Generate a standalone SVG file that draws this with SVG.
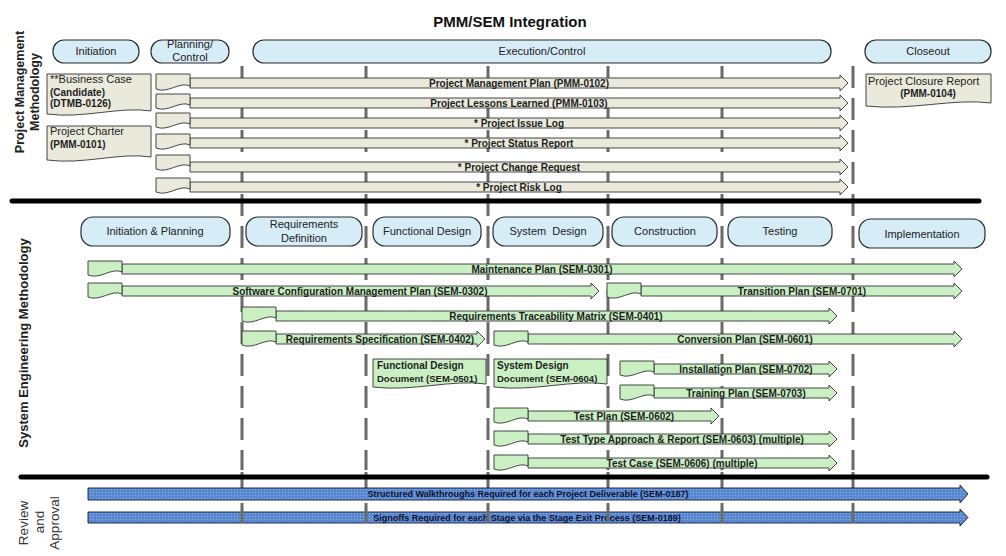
<svg xmlns="http://www.w3.org/2000/svg" width="1006" height="556" viewBox="0 0 1006 556">
<defs>
<style>
.pill{fill:#d6ecf7;stroke:#2b2b2b;stroke-width:1.2}
.pt{font-family:"Liberation Sans",Arial,sans-serif;font-size:11px;fill:#222;text-anchor:middle}
.beige{fill:#e9e9dc;stroke:#333;stroke-width:0.9}
.green{fill:#c9efc3;stroke:#333;stroke-width:0.9}
.blue{fill:url(#bluetex);stroke:#1a1a2a;stroke-width:0.9}
.bt{font-family:"Liberation Sans",Arial,sans-serif;font-size:10px;font-weight:bold;fill:#1e1e1e;text-anchor:middle}
.rt{font-family:"Liberation Sans",Arial,sans-serif;font-size:9px;font-weight:bold;fill:#101030;text-anchor:middle}
.dt{font-family:"Liberation Sans",Arial,sans-serif;font-size:11px;fill:#1e1e1e}
.db{font-family:"Liberation Sans",Arial,sans-serif;font-size:10px;font-weight:bold;fill:#1e1e1e}
.lab{font-family:"Liberation Sans",Arial,sans-serif;font-size:12.5px;font-weight:bold;fill:#222;text-anchor:middle}
.rlab{font-family:"Liberation Sans",Arial,sans-serif;font-size:13.5px;fill:#333;text-anchor:middle}
.dash{stroke:#6a6a6a;stroke-width:3;stroke-dasharray:22 10;fill:none}
.tick{stroke:#6a6a6a;stroke-width:3;fill:none}
.sep{stroke:#000;stroke-width:5;stroke-linecap:round}
</style>
<pattern id="bluetex" width="3" height="3" patternUnits="userSpaceOnUse">
<rect width="3" height="3" fill="#5989d2"/>
<rect width="1" height="1" fill="#8fb2e6"/>
</pattern>
</defs>
<rect width="1006" height="556" fill="#ffffff"/>

<text x="510" y="27" style="font-family:'Liberation Sans',Arial,sans-serif;font-size:15px;font-weight:bold;fill:#111;text-anchor:middle">PMM/SEM Integration</text>

<!-- side labels -->
<g id="label-pmm">
<text class="lab" transform="translate(24,92) rotate(-90)">Project Management</text>
<text class="lab" transform="translate(39,92) rotate(-90)">Methodology</text>
</g>
<g id="label-sem">
<text class="lab" style="font-size:13px" transform="translate(28,343) rotate(-90)">System Engineering Methodology</text>
</g>
<g id="label-review">
<text class="rlab" transform="translate(28,523) rotate(-90)">Review</text>
<text class="rlab" transform="translate(44,522) rotate(-90)">and</text>
<text class="rlab" transform="translate(59,523) rotate(-90)">Approval</text>
</g>

<!-- phase separators -->
<g id="phase-lines">
<line class="dash" x1="242" y1="66" x2="242" y2="470"/>
<line class="dash" x1="366" y1="66" x2="366" y2="470"/>
<line class="dash" x1="488" y1="66" x2="488" y2="470"/>
<line class="dash" x1="608" y1="66" x2="608" y2="470"/>
<line class="dash" x1="722" y1="66" x2="722" y2="470"/>
<line class="dash" x1="853" y1="66" x2="853" y2="470"/>
<path class="tick" d="M242,472 V488 M366,472 V488 M488,472 V488 M608,472 V488 M722,472 V488 M853,472 V488"/>
</g>
<line class="sep" x1="12" y1="201" x2="979" y2="201"/>
<line class="sep" x1="21" y1="477" x2="987" y2="477"/>

<!-- PMM phases -->
<g id="pmm-initiation"><rect class="pill" x="53" y="40" width="86" height="23" rx="11"/><text class="pt" x="96" y="55">Initiation</text></g>
<g id="pmm-planning"><rect class="pill" x="151" y="40" width="78" height="23" rx="11"/><text class="pt" x="190" y="48">Planning/</text><text class="pt" x="190" y="61">Control</text></g>
<g id="pmm-execution"><rect class="pill" x="253" y="40" width="578" height="23" rx="11"/><text class="pt" x="542" y="55">Execution/Control</text></g>
<g id="pmm-closeout"><rect class="pill" x="865" y="40" width="126" height="23" rx="11"/><text class="pt" x="928" y="55">Closeout</text></g>

<!-- PMM documents -->
<g id="doc-business-case">
<path class="beige" d="M47,74 H151 V111 C119.8,106 83.4,119 47,114 Z"/>
<text class="dt" x="50" y="83">**Business Case</text>
<text class="db" x="50" y="96">(Candidate)</text>
<text class="db" x="50" y="107">(DTMB-0126)</text>
</g>
<g id="doc-project-charter">
<path class="beige" d="M47,126 H151 V157 C119.8,152 83.4,165 47,160 Z"/>
<text class="dt" x="50" y="135">Project Charter</text>
<text class="db" x="50" y="148">(PMM-0101)</text>
</g>
<g id="doc-closure-report">
<path class="beige" d="M866,74 H991 V103 C953.5,98 909.8,111 866,106 Z"/>
<text class="dt" x="868" y="85">Project Closure Report</text>
<text class="db" x="928" y="97" text-anchor="middle">(PMM-0104)</text>
</g>

<g id="connectors">
<!-- PMM deliverable bars -->
<g id="pmm-0102">
<path class="beige" d="M190,78 H840 V75 L848,83 L840,91 V88 H190 Z"/>
<path class="beige" d="M156,74 H190 V86 C179.8,81 167.9,94 156,89 Z"/>
<text class="bt" x="519" y="87">Project Management Plan (PMM-0102)</text>
</g>
<g id="pmm-0103">
<path class="beige" d="M190,98 H840 V95 L848,103 L840,111 V108 H190 Z"/>
<path class="beige" d="M156,94 H190 V105 C179.8,100 167.9,113 156,108 Z"/>
<text class="bt" x="519" y="107">Project Lessons Learned (PMM-0103)</text>
</g>
<g id="pmm-issue-log">
<path class="beige" d="M190,118 H840 V115 L848,123 L840,131 V128 H190 Z"/>
<path class="beige" d="M156,113 H190 V124 C179.8,119 167.9,132 156,127 Z"/>
<text class="bt" x="519" y="127">* Project Issue Log</text>
</g>
<g id="pmm-status-report">
<path class="beige" d="M190,138 H840 V135 L848,143 L840,151 V148 H190 Z"/>
<path class="beige" d="M156,134 H190 V145 C179.8,140 167.9,153 156,148 Z"/>
<text class="bt" x="519" y="147">* Project Status Report</text>
</g>
<g id="pmm-change-request">
<path class="beige" d="M190,162 H840 V159 L848,167 L840,175 V172 H190 Z"/>
<path class="beige" d="M156,155 H190 V166 C179.8,161 167.9,174 156,169 Z"/>
<text class="bt" x="519" y="171">* Project Change Request</text>
</g>
<g id="pmm-risk-log">
<path class="beige" d="M190,182 H840 V179 L848,187 L840,195 V192 H190 Z"/>
<path class="beige" d="M156,178 H190 V189 C179.8,184 167.9,197 156,192 Z"/>
<text class="bt" x="519" y="191">* Project Risk Log</text>
</g>

<!-- SEM deliverable bars -->
<g id="sem-0301">
<path class="green" d="M122,264 H954 V261 L962,269 L954,277 V274 H122 Z"/>
<path class="green" d="M88,261 H122 V272 C111.8,267 99.9,280 88,275 Z"/>
<text class="bt" x="542" y="273">Maintenance Plan (SEM-0301)</text>
</g>
<g id="sem-0302">
<path class="green" d="M122,286 H591 V283 L599,291 L591,299 V296 H122 Z"/>
<path class="green" d="M88,283 H122 V294 C111.8,289 99.9,302 88,297 Z"/>
<text class="bt" x="360" y="295">Software Configuration Management Plan (SEM-0302)</text>
</g>
<g id="sem-0701">
<path class="green" d="M641,286 H954 V283 L962,291 L954,299 V296 H641 Z"/>
<path class="green" d="M607,283 H641 V294 C630.8,289 618.9,302 607,297 Z"/>
<text class="bt" x="802" y="295">Transition Plan (SEM-0701)</text>
</g>
<g id="sem-0401">
<path class="green" d="M276,311 H829 V308 L837,316 L829,324 V321 H276 Z"/>
<path class="green" d="M242,307 H276 V318 C265.8,313 253.9,326 242,321 Z"/>
<text class="bt" x="556" y="320">Requirements Traceability Matrix (SEM-0401)</text>
</g>
<g id="sem-0402">
<path class="green" d="M276,334 H477 V331 L485,339 L477,347 V344 H276 Z"/>
<path class="green" d="M242,331 H276 V342 C265.8,337 253.9,350 242,345 Z"/>
<text class="bt" x="380" y="343">Requirements Specification (SEM-0402)</text>
</g>
<g id="sem-0601">
<path class="green" d="M528,334 H954 V331 L962,339 L954,347 V344 H528 Z"/>
<path class="green" d="M494,331 H528 V342 C517.8,337 505.9,350 494,345 Z"/>
<text class="bt" x="745" y="343">Conversion Plan (SEM-0601)</text>
</g>
<g id="sem-0702">
<path class="green" d="M654,364 H829 V361 L837,369 L829,377 V374 H654 Z"/>
<path class="green" d="M620,361 H654 V372 C643.8,367 631.9,380 620,375 Z"/>
<text class="bt" x="746" y="373">Installation Plan (SEM-0702)</text>
</g>
<g id="sem-0703">
<path class="green" d="M654,388 H829 V385 L837,393 L829,401 V398 H654 Z"/>
<path class="green" d="M620,385 H654 V396 C643.8,391 631.9,404 620,399 Z"/>
<text class="bt" x="746" y="397">Training Plan (SEM-0703)</text>
</g>
<g id="sem-0602">
<path class="green" d="M528,411 H711 V408 L719,416 L711,424 V421 H528 Z"/>
<path class="green" d="M494,408 H528 V419 C517.8,414 505.9,427 494,422 Z"/>
<text class="bt" x="624" y="420">Test Plan (SEM-0602)</text>
</g>
<g id="sem-0603">
<path class="green" d="M528,434 H829 V431 L837,439 L829,447 V444 H528 Z"/>
<path class="green" d="M494,431 H528 V442 C517.8,437 505.9,450 494,445 Z"/>
<text class="bt" x="682" y="443">Test Type Approach &amp; Report (SEM-0603) (multiple)</text>
</g>
<g id="sem-0606">
<path class="green" d="M528,458 H829 V455 L837,463 L829,471 V468 H528 Z"/>
<path class="green" d="M494,455 H528 V466 C517.8,461 505.9,474 494,469 Z"/>
<text class="bt" x="682" y="467">Test Case (SEM-0606) (multiple)</text>
</g>

<!-- Review bars -->
<g id="sem-0187">
<path class="blue" d="M88,488 H960 V485 L968,494 L960,503 V500 H88 Z"/>
<text class="rt" x="528" y="497">Structured Walkthroughs Required for each Project Deliverable (SEM-0187)</text>
</g>
<g id="sem-0189">
<path class="blue" d="M88,512 H960 V509 L968,517.5 L960,526 V523 H88 Z"/>
<text class="rt" x="527" y="521">Signoffs Required for each Stage via the Stage Exit Process (SEM-0189)</text>
</g>
</g>
<path class="tick" d="M242,503 V523 M366,503 V523 M488,503 V523 M608,503 V523 M722,503 V523 M853,503 V523"/>

<!-- SEM documents -->
<g id="doc-sem-0501">
<path class="green" d="M373,359 H486 V384 C452.1,379 412.6,392 373,387 Z"/>
<text class="db" x="377" y="369">Functional Design</text>
<text class="db" x="377" y="382" style="font-size:9.5px">Document (SEM-0501)</text>
</g>
<g id="doc-sem-0604">
<path class="green" d="M494,359 H607 V384 C573.1,379 533.6,392 494,387 Z"/>
<text class="db" x="497" y="369">System Design</text>
<text class="db" x="497" y="382" style="font-size:9.5px">Document (SEM-0604)</text>
</g>

<!-- SEM phases -->
<g id="sem-initiation-planning"><rect class="pill" x="81" y="217" width="149" height="29" rx="12"/><text class="pt" x="155" y="235">Initiation &amp; Planning</text></g>
<g id="sem-requirements"><rect class="pill" x="246" y="217" width="116" height="29" rx="12"/><text class="pt" x="304" y="228">Requirements</text><text class="pt" x="304" y="242">Definition</text></g>
<g id="sem-functional-design"><rect class="pill" x="373" y="217" width="108" height="29" rx="12"/><text class="pt" x="427" y="235">Functional Design</text></g>
<g id="sem-system-design"><rect class="pill" x="493" y="217" width="110" height="29" rx="12"/><text class="pt" x="548" y="235" xml:space="preserve">System  Design</text></g>
<g id="sem-construction"><rect class="pill" x="612" y="217" width="105" height="29" rx="12"/><text class="pt" x="665" y="235">Construction</text></g>
<g id="sem-testing"><rect class="pill" x="728" y="217" width="104" height="29" rx="12"/><text class="pt" x="780" y="235">Testing</text></g>
<g id="sem-implementation"><rect class="pill" x="859" y="219" width="126" height="29" rx="12"/><text class="pt" x="922" y="238">Implementation</text></g>
</svg>
